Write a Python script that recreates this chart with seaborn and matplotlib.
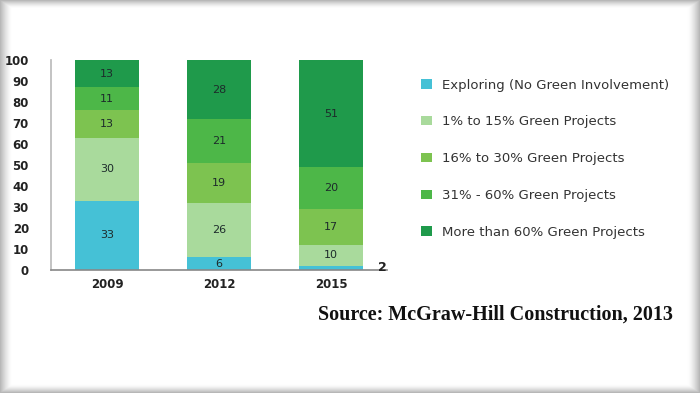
import numpy as np
import pandas as pd
import matplotlib
matplotlib.use("Agg")
import matplotlib.pyplot as plt
import seaborn as sns

years = ["2009", "2012", "2015"]
series = [
    "Exploring (No Green Involvement)",
    "1% to 15% Green Projects",
    "16% to 30% Green Projects",
    "31% - 60% Green Projects",
    "More than 60% Green Projects",
]
exploring = [33, 6, 2]
green_1_15 = [30, 26, 10]
green_16_30 = [13, 19, 17]
green_31_60 = [11, 21, 20]
green_60_plus = [13, 28, 51]
colors = ["#45C1D6", "#A9DA9C", "#7DC350", "#4DB748", "#1F9A4B"]

values = [exploring, green_1_15, green_16_30, green_31_60, green_60_plus]

sns.set_theme(style="white")
plt.rcParams["font.family"] = ["DejaVu Sans"]

fig = plt.figure(figsize=(7, 3.93), dpi=100)

# soft grey vignette frame around the picture
bg = fig.add_axes([0, 0, 1, 1], zorder=-10)
h, w = 393, 700
yy, xx = np.mgrid[0:h, 0:w]
edge = np.minimum.reduce([xx / 12.0, (w - 1 - xx) / 12.0, yy / 8.0, (h - 1 - yy) / 8.0])
shade = 1 - 0.28 * np.clip(1 - edge, 0, 1) ** 1.5
bg.imshow(shade, cmap="gray", vmin=0, vmax=1, aspect="auto")
bg.axis("off")

ax = fig.add_axes([0.073, 0.313, 0.48, 0.534])
ax.patch.set_alpha(0)

bottom = np.zeros(len(years))
for name, vals, col in zip(series, values, colors):
    df = pd.DataFrame({"year": years, "value": vals})
    sns.barplot(data=df, x="year", y="value", color=col, bottom=bottom,
                width=0.57, ax=ax, label=name, saturation=1, linewidth=0)
    for i, v in enumerate(vals):
        if v >= 5:
            ax.text(i, bottom[i] + v / 2, str(v), ha="center", va="center",
                    fontsize=8, color="#1d2b2b")
    bottom = bottom + np.array(vals)

# small value of exploring in 2015 labelled outside
ax.text(2.42, exploring[2] - 1, str(exploring[2]), ha="left", va="center",
        fontsize=9, fontweight="bold", color="#222222")

ax.set_xlim(-0.5, 2.5)
ax.set_ylim(0, 100)
ax.set_yticks(range(0, 101, 10))
ax.set_xlabel("")
ax.set_ylabel("")
ax.tick_params(axis="both", length=0, labelsize=8.5, labelcolor="#222222")
ax.tick_params(axis="y", pad=16)
ax.tick_params(axis="x", pad=6)
for lab in ax.get_xticklabels() + ax.get_yticklabels():
    lab.set_fontweight("bold")
for s in ["top", "right"]:
    ax.spines[s].set_visible(False)
ax.spines["left"].set_color("#bbbbbb")
ax.spines["bottom"].set_color("#888888")
ax.spines["bottom"].set_linewidth(1.2)

handles, labels = ax.get_legend_handles_labels()
if ax.get_legend() is not None:
    ax.get_legend().remove()
fig.legend(handles, labels, loc="upper left", bbox_to_anchor=(0.585, 0.83),
           frameon=False, fontsize=9.5, labelcolor="#333333",
           handlelength=0.8, handleheight=0.7, labelspacing=1.8,
           handletextpad=0.8)

fig.text(0.962, 0.2, "Source: McGraw-Hill Construction, 2013", ha="right",
         va="center", fontsize=14.5, fontweight="bold",
         family=["Liberation Serif", "DejaVu Serif"], color="#111111")

fig.savefig("out.png", dpi=100)
